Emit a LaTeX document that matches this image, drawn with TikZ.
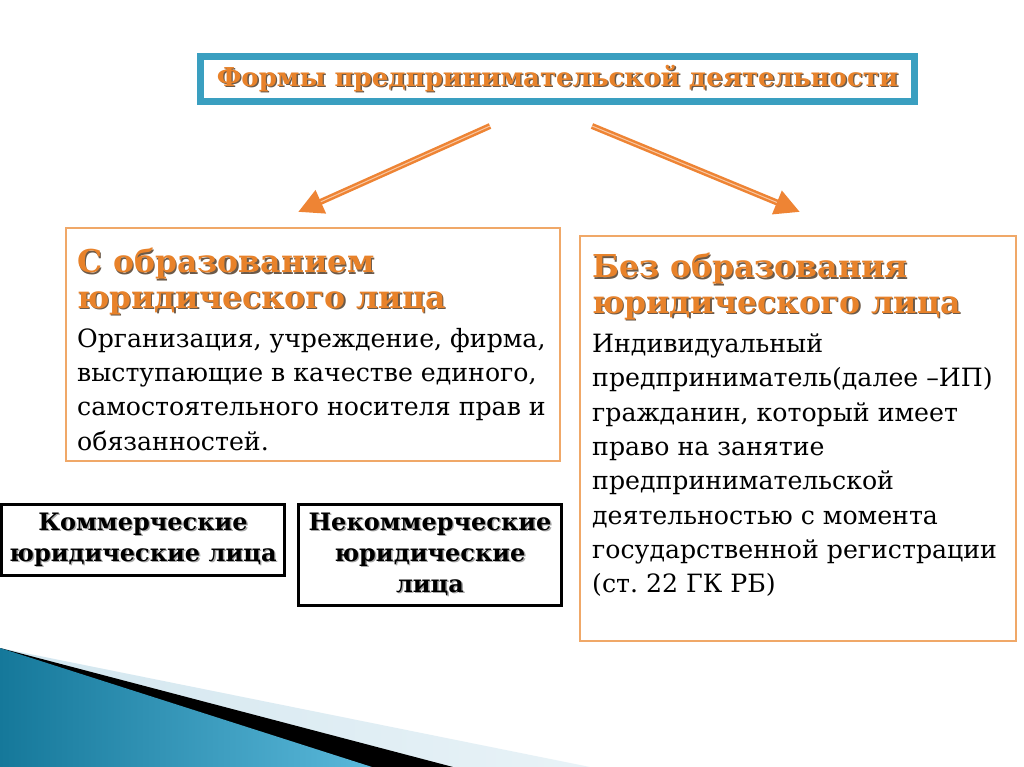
\documentclass[tikz,border=0pt]{standalone}
\usepackage{fontspec}
\setmainfont{DejaVu Serif}
\usetikzlibrary{arrows.meta}
\definecolor{tealA}{HTML}{3A9FC0}
\definecolor{orangeT}{HTML}{E8822A}
\definecolor{orangeB}{HTML}{F0A868}
\definecolor{shadowc}{HTML}{6B5A4A}
\definecolor{arrowc}{HTML}{EE8434}
\definecolor{blueA}{HTML}{15789A}
\definecolor{blueB}{HTML}{5AB8DA}
\definecolor{lightb}{HTML}{D2E6EF}
\newcommand{\sh}[2][shadowc]{\leavevmode\rlap{\kern1.4pt\raisebox{-1.4pt}{\textcolor{#1}{#2}}}#2}
\frenchspacing
\begin{document}
\begin{tikzpicture}[x=1pt,y=-1pt,
  titlebox/.style={draw=tealA, line width=5pt, minimum width=716pt, minimum height=47pt, inner sep=0pt,
    text=orangeT, font=\bfseries\fontsize{26}{30}\selectfont},
  obox/.style={draw=orangeB, line width=2pt, fill=white, inner sep=0pt},
  head/.style={anchor=north west, inner sep=0pt, align=left, text=orangeT,
    font=\bfseries\fontsize{31.5}{35.5}\selectfont},
  body/.style={anchor=north west, inner sep=0pt, align=left, text=black,
    font=\fontsize{25.2}{34.3}\selectfont},
  bbox/.style={draw=black, line width=3pt, fill=white, inner sep=0pt, align=center,
    font=\bfseries\fontsize{24}{31}\selectfont},
  arr/.style={draw=arrowc, line width=6pt, -{Triangle[length=25pt,width=24pt]}},
  hl/.style={draw=white, line width=1pt, opacity=0.55, shorten >=25pt}]
\useasboundingbox[fill=white] (0,0) rectangle (1024,767);
% decoration bottom-left
\shade[left color=lightb, right color=lightb!50] (0,648) -- (590,767) -- (0,767) -- cycle;
\fill[black] (0,648) -- (453,767) -- (0,767) -- cycle;
\shade[left color=blueA, right color=blueB] (0,648) -- (372,767) -- (0,767) -- cycle;
% title
\node[titlebox] (title) at (557.5,79) {\sh{Формы предпринимательской деятельности}};
\draw[tealA, line width=1.5pt] ([shift={(6,6)}]title.north west) rectangle ([shift={(-6,-6)}]title.south east);
% arrows
\coordinate (a1s) at (490,126);
\coordinate (a1e) at (298,212);
\coordinate (a2s) at (592,126);
\coordinate (a2e) at (800,212);
\draw[arr] (a1s) -- (a1e);
\draw[arr] (a2s) -- (a2e);
\draw[hl] (a1s) -- (a1e);
\draw[hl] (a2s) -- (a2e);
% left box
\node[obox, minimum width=494pt, minimum height=233pt] (left) at (313,344.5) {};
\node[head] (lh) at (77,248) {\sh{С образованием}\\\sh{юридического лица}};
\node[body] (lb) at (77,328) {Организация, учреждение, фирма,\\выступающие в качестве единого,\\самостоятельного носителя прав и\\обязанностей.};
% right box
\node[obox, minimum width=436pt, minimum height=405pt] (right) at (798,438.5) {};
\node[head] (rh) at (592,253) {\sh{Без образования}\\\sh{юридического лица}};
\node[body] (rb) at (592,333.5) {Индивидуальный\\предприниматель(далее –ИП)\\гражданин, который имеет\\право на занятие\\предпринимательской\\деятельностью с момента\\государственной регистрации\\(ст. 22 ГК РБ)};
% bottom boxes
\node[bbox, minimum width=283pt, minimum height=71pt] (com) at (143,540) {\sh[gray!70]{Коммерческие}\\\sh[gray!70]{юридические лица}};
\node[bbox, minimum width=263pt, minimum height=101pt] (ncom) at (430,555) {\sh[gray!70]{Некоммерческие}\\\sh[gray!70]{юридические}\\\sh[gray!70]{лица}};
\end{tikzpicture}
\end{document}
